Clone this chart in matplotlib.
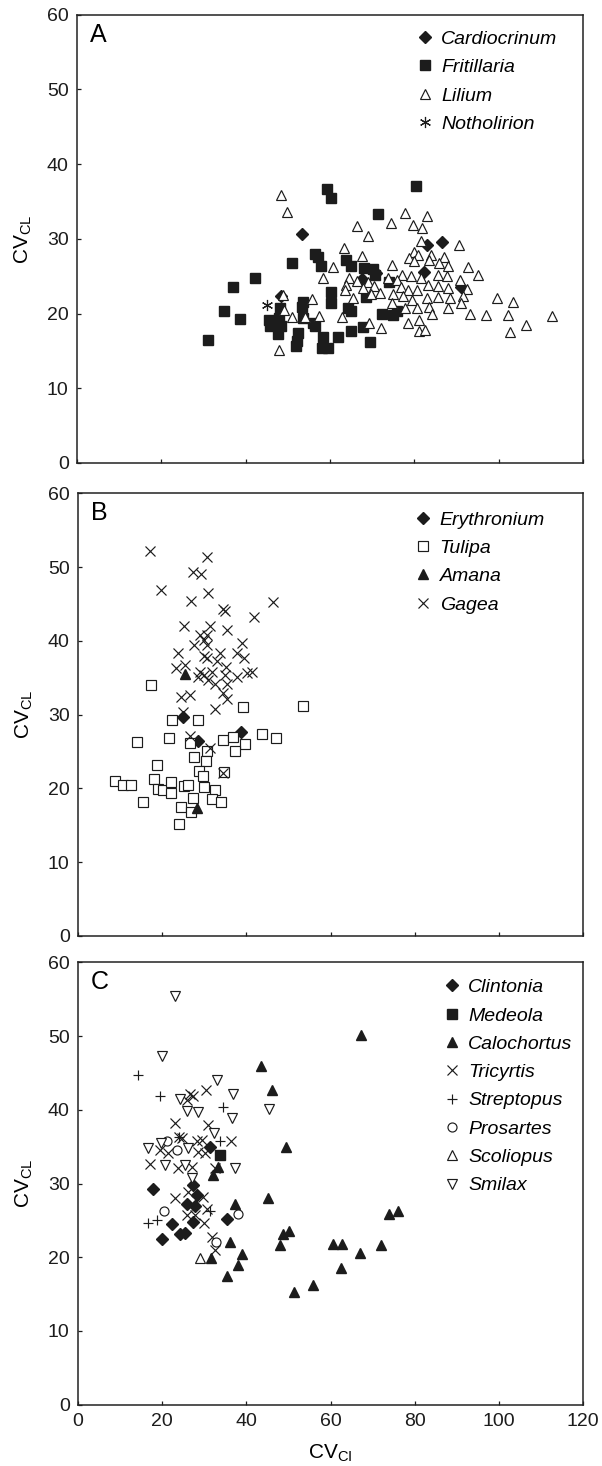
import numpy as np
import matplotlib
matplotlib.use('Agg')
import matplotlib.pyplot as plt

plt.rcParams['font.family'] = ['Liberation Sans', 'DejaVu Sans']
plt.rcParams['mathtext.default'] = 'regular'

# ---------------- Panel A ----------------
cardio_x = [53.3, 86.5, 82.9, 82.4, 67.7, 71.0, 91.0, 48.5]
cardio_y = [30.7, 29.6, 29.2, 25.5, 24.6, 25.4, 23.5, 22.3]

fritil_x = [80.4, 59.2, 60.2, 71.5, 50.9, 56.4, 57.2, 57.8, 63.8, 64.9, 68.1, 70.1,
            70.7, 42.2, 36.9, 34.8, 38.7, 31.0, 60.2, 60.2, 64.2, 65.0, 72.3, 74.9,
            76.0, 68.5, 74.1, 45.6, 45.8, 48.0, 48.3, 47.7, 52.5, 52.1, 51.9, 53.7,
            53.3, 53.7, 56.0, 56.4, 58.3, 58.0, 59.6, 61.8, 65.0, 67.9, 69.5, 48.1]
fritil_y = [37.1, 36.6, 35.5, 33.3, 26.8, 28.0, 27.5, 26.3, 27.2, 26.3, 26.1, 25.9,
            25.2, 24.7, 23.5, 20.3, 19.3, 16.5, 22.9, 21.4, 20.8, 20.4, 20.0, 19.8,
            20.3, 22.2, 24.2, 19.1, 18.3, 19.4, 18.3, 17.3, 17.4, 16.3, 15.6, 21.6,
            20.9, 19.4, 18.7, 18.3, 16.9, 15.4, 15.4, 16.8, 17.7, 18.2, 16.2, 20.7]

lilium_x = [48.5, 49.7, 77.8, 82.9, 74.4, 79.6, 81.9, 66.3, 68.9, 81.7, 90.7, 63.4,
            67.7, 79.9, 80.9, 83.9, 87.0, 78.8, 79.9, 83.6, 85.9, 88.1, 74.6, 60.6,
            92.8, 95.2, 58.3, 64.4, 66.3, 68.9, 77.0, 79.1, 81.5, 85.7, 87.7, 73.8,
            75.8, 63.8, 67.9, 70.5, 71.9, 69.7, 65.5, 76.8, 78.6, 80.6, 83.3, 85.5,
            88.1, 90.8, 92.4, 91.5, 75.0, 77.4, 79.4, 82.9, 85.7, 88.5, 91.0, 74.6,
            77.8, 80.6, 83.6, 88.1, 84.1, 78.6, 81.2, 81.2, 82.5, 99.5, 103.3, 93.2,
            97.0, 102.3, 112.7, 106.6, 102.7, 55.7, 57.5, 54.1, 50.9, 48.8, 49.1, 62.8,
            69.3, 72.0, 48.0, 63.6]
lilium_y = [35.9, 33.6, 33.5, 33.1, 32.1, 31.9, 31.4, 31.7, 30.4, 29.7, 29.2, 28.8,
            27.7, 28.3, 27.9, 27.9, 27.6, 27.4, 27.0, 27.2, 26.7, 26.4, 26.5, 26.2,
            26.2, 25.2, 24.8, 24.7, 24.3, 24.2, 25.2, 25.0, 24.7, 25.2, 25.0, 24.8,
            24.5, 23.8, 23.4, 23.7, 22.7, 22.6, 22.1, 23.6, 23.2, 23.2, 23.8, 23.7,
            23.4, 24.5, 23.3, 22.4, 22.6, 22.3, 21.8, 22.1, 22.2, 22.1, 21.4, 21.4,
            20.7, 20.7, 20.9, 20.8, 20.0, 18.7, 19.1, 17.7, 17.8, 22.1, 21.5, 20.0,
            19.8, 19.8, 19.7, 18.5, 17.5, 21.9, 19.7, 19.6, 19.6, 22.5, 20.5, 19.6,
            18.7, 18.0, 15.1, 23.2]

notho_x = [45.0]
notho_y = [21.2]

# ---------------- Panel B ----------------
eryth_x = [24.9, 28.6, 38.7]
eryth_y = [29.7, 26.4, 27.6]

tulipa_x = [17.3, 39.3, 53.4, 22.3, 28.5, 14.0, 21.5, 26.5, 34.4, 36.8, 39.7, 43.8,
            47.1, 37.3, 30.6, 27.6, 30.4, 18.7, 28.7, 29.8, 34.7, 8.8, 10.8, 12.5,
            18.1, 19.1, 20.1, 22.1, 22.1, 25.2, 26.2, 30.0, 32.6, 31.8, 33.9, 27.3,
            15.5, 24.4, 26.8, 23.9]
tulipa_y = [34.0, 31.0, 31.1, 29.2, 29.2, 26.3, 26.8, 26.2, 26.5, 27.0, 26.0, 27.4,
            26.8, 25.0, 25.0, 24.2, 23.7, 23.1, 22.4, 21.7, 22.2, 21.0, 20.4, 20.4,
            21.2, 19.9, 19.8, 20.9, 19.4, 20.3, 20.4, 20.2, 19.8, 18.6, 18.1, 18.7,
            18.2, 17.5, 16.8, 15.2]

amana_x = [25.4, 28.2]
amana_y = [35.5, 17.3]

gagea_x = [17.1, 30.6, 27.3, 29.2, 19.7, 31.0, 26.8, 46.4, 34.5, 35.0, 41.7, 25.3,
           31.4, 35.3, 29.0, 30.7, 29.9, 27.6, 30.6, 38.9, 23.8, 33.8, 37.7, 29.9,
           30.7, 39.5, 25.4, 23.3, 33.0, 35.2, 29.0, 29.9, 31.0, 31.8, 32.6, 34.9,
           37.7, 40.1, 41.3, 28.4, 35.3, 34.4, 24.4, 26.6, 35.5, 32.6, 25.0, 26.6,
           31.4, 34.4]
gagea_y = [52.2, 51.3, 49.3, 49.1, 46.9, 46.5, 45.4, 45.2, 44.3, 44.1, 43.2, 42.0,
           42.0, 41.5, 40.8, 40.8, 40.1, 39.4, 39.4, 39.7, 38.4, 38.3, 38.3, 37.9,
           37.6, 37.6, 36.7, 36.3, 37.2, 36.5, 35.8, 35.4, 34.7, 35.8, 34.2, 35.4,
           35.1, 35.6, 35.7, 35.1, 34.1, 32.9, 32.4, 32.6, 32.1, 30.8, 30.4, 27.1,
           25.4, 22.1]

# ---------------- Panel C ----------------
clint_x = [31.4, 27.3, 17.9, 28.2, 25.8, 27.8, 27.4, 35.3, 22.3, 24.2, 25.4, 19.9]
clint_y = [35.0, 29.8, 29.3, 28.4, 27.2, 27.0, 24.8, 25.2, 24.5, 23.2, 23.3, 22.5]

medeola_x = [33.8]
medeola_y = [33.9]

caloch_x = [67.2, 43.5, 46.0, 49.4, 33.2, 32.0, 45.2, 37.3, 73.9, 76.1, 48.8, 50.2,
            48.0, 60.7, 62.7, 72.0, 66.9, 62.5, 55.8, 51.4, 36.1, 38.9, 31.6, 38.0,
            35.3]
caloch_y = [50.1, 45.9, 42.7, 34.9, 32.3, 31.2, 28.1, 27.2, 25.9, 26.3, 23.1, 23.5,
            21.7, 21.8, 21.8, 21.7, 20.6, 18.6, 16.2, 15.3, 22.0, 20.5, 19.9, 19.0,
            17.4]

tricy_x = [26.6, 27.4, 25.8, 30.4, 23.1, 31.0, 24.0, 24.6, 28.2, 29.4, 36.4, 19.5,
           21.3, 17.1, 23.7, 27.0, 28.6, 30.2, 32.6, 23.1, 26.2, 29.6, 25.8, 27.8,
           30.6, 30.0, 31.8, 32.6]
tricy_y = [42.2, 41.8, 41.3, 42.7, 38.2, 38.0, 36.3, 36.2, 35.7, 35.9, 35.7, 34.5,
           34.1, 32.7, 32.1, 32.3, 34.3, 34.1, 32.1, 28.0, 28.9, 28.2, 25.7, 25.7,
           26.5, 24.6, 22.8, 21.0]

strep_x = [14.2, 19.4, 34.5, 33.8, 23.9, 16.7, 18.7, 31.4]
strep_y = [44.7, 41.8, 40.4, 35.7, 36.3, 24.7, 25.0, 26.3]

prosa_x = [21.1, 23.5, 20.5, 38.0, 32.7]
prosa_y = [35.7, 34.6, 26.3, 25.9, 22.0]

scolio_x = [29.0]
scolio_y = [19.9]

smilax_x = [23.1, 19.9, 33.0, 36.9, 24.2, 25.8, 28.4, 36.5, 45.4, 32.4, 19.7, 16.7,
            26.1, 20.7, 25.4, 37.3, 27.0]
smilax_y = [55.4, 47.3, 44.1, 42.1, 41.5, 39.8, 39.7, 38.9, 40.1, 36.8, 35.5, 34.8,
            34.8, 32.5, 32.5, 32.1, 30.8]

K = '#1c1c1c'
filled = dict(linestyle='none', color=K, markeredgecolor=K)
hollow = dict(linestyle='none', markerfacecolor='white', markeredgecolor=K,
              markeredgewidth=0.85)
lined = dict(linestyle='none', color=K, markeredgewidth=0.85)

fig = plt.figure(figsize=(6.02, 14.66), dpi=100)
axA = fig.add_axes([0.1279, 0.6842, 0.8405, 0.3058])
axB = fig.add_axes([0.1296, 0.3617, 0.8389, 0.3018])
axC = fig.add_axes([0.1296, 0.0418, 0.8389, 0.3018])

# A
axA.plot(cardio_x, cardio_y, 'D', ms=5.8, label='Cardiocrinum', **filled)
axA.plot(fritil_x, fritil_y, 's', ms=6.5, label='Fritillaria', **filled)
axA.plot(lilium_x, lilium_y, '^', ms=7.2, label='Lilium', **hollow)
axA.plot(notho_x, notho_y, marker=(6, 2, 0), ms=8, label='Notholirion', **lined)

# B
axB.plot(eryth_x, eryth_y, 'D', ms=5.8, label='Erythronium', **filled)
axB.plot(tulipa_x, tulipa_y, 's', ms=6.5, label='Tulipa', **hollow)
axB.plot(amana_x, amana_y, '^', ms=7.2, label='Amana', **filled)
axB.plot(gagea_x, gagea_y, 'x', ms=7, label='Gagea', **lined)

# C
axC.plot(clint_x, clint_y, 'D', ms=5.8, label='Clintonia', **filled)
axC.plot(medeola_x, medeola_y, 's', ms=6.5, label='Medeola', **filled)
axC.plot(caloch_x, caloch_y, '^', ms=7.5, label='Calochortus', **filled)
axC.plot(tricy_x, tricy_y, 'x', ms=7, label='Tricyrtis', **lined)
axC.plot(strep_x, strep_y, '+', ms=7, label='Streptopus', **lined)
axC.plot(prosa_x, prosa_y, 'o', ms=6.5, label='Prosartes', **hollow)
axC.plot(scolio_x, scolio_y, '^', ms=7.2, label='Scoliopus', **hollow)
axC.plot(smilax_x, smilax_y, 'v', ms=7.2, label='Smilax', **hollow)

legend_left = {'A': 0.668, 'B': 0.664, 'C': 0.721}
legend_top = {'A': 0.965, 'B': 0.960, 'C': 0.963}

for ax, letter in [(axA, 'A'), (axB, 'B'), (axC, 'C')]:
    ax.set_xlim(0, 120)
    ax.set_ylim(0, 60)
    ax.set_xticks(np.arange(0, 121, 20))
    ax.set_yticks(np.arange(0, 61, 10))
    ax.tick_params(direction='in', length=3, width=0.9, labelsize=14, pad=6,
                   colors=K)
    for s in ax.spines.values():
        s.set_linewidth(1.1)
        s.set_color('#222222')
    ax.set_ylabel(r'CV$_{\mathregular{CL}}$', fontsize=15, labelpad=9)
    ax.text(0.026, 0.982, letter, transform=ax.transAxes, ha='left', va='top',
            fontsize=18)
    ax.legend(loc='upper left', bbox_to_anchor=(legend_left[letter], legend_top[letter]),
              frameon=False, borderpad=0, borderaxespad=0, handlelength=1.0,
              handletextpad=0.35, labelspacing=0.55,
              prop={'style': 'italic', 'size': 14})

axA.tick_params(labelbottom=False)
axB.tick_params(labelbottom=False)
axC.set_xlabel(r'CV$_{\mathregular{CI}}$', fontsize=15, labelpad=9)

fig.savefig('out.png', dpi=100, facecolor='white')
